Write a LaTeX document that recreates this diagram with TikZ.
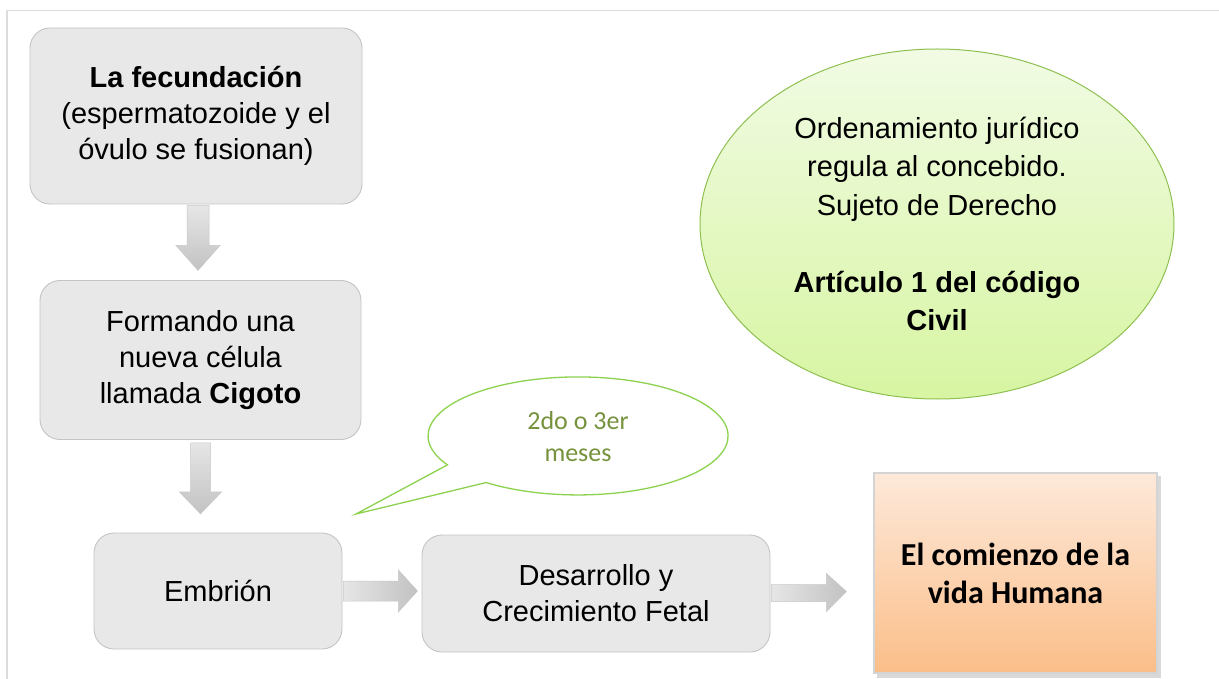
\documentclass[tikz,border=0pt]{standalone}
\usepackage{fontspec}
\setmainfont{Liberation Sans}
\newfontfamily\calib{Carlito}
\usetikzlibrary{calc,shapes.geometric}
\definecolor{boxfill}{HTML}{E8E8E8}
\definecolor{boxline}{HTML}{C4C4C4}
\definecolor{framecol}{HTML}{DCDCDC}
\definecolor{ellline}{HTML}{8EC050}
\definecolor{elltop}{HTML}{F1FBE4}
\definecolor{ellbot}{HTML}{D7F5A2}
\definecolor{calline}{HTML}{8CD24E}
\definecolor{caltext}{HTML}{76923C}
\definecolor{orgtop}{HTML}{FDE9DA}
\definecolor{orgbot}{HTML}{FBBE89}
\definecolor{orgline}{HTML}{D4D4D4}
\definecolor{arrlight}{HTML}{E6E6E6}
\definecolor{arrdark}{HTML}{C2C2C2}
\tikzset{
  stepbox/.style={draw=boxline, line width=0.9pt, fill=boxfill, rounded corners=20pt,
    align=center, inner sep=0pt, font=\fontsize{29}{36}\selectfont},
  blockarrowv/.style={top color=arrlight, bottom color=arrdark, draw=arrdark!90, line width=0.5pt},
  blockarrowh/.style={left color=arrlight, right color=arrdark, draw=arrdark!90, line width=0.5pt},
}
\begin{document}
\begin{tikzpicture}[x=1pt,y=-1pt]
\useasboundingbox (0,0) rectangle (1219,679);
% frame
\draw[framecol, line width=1.2pt] (7,679) -- (7,10.5) -- (1219,10.5);

% boxes
\node[stepbox, minimum width=332pt, minimum height=176pt] (b1) at (196,116)
  {\textbf{La fecundación}\\(espermatozoide y el\\óvulo se fusionan)};
\node[stepbox, minimum width=321pt, minimum height=159pt] (b2) at (200.5,360)
  {Formando una\\nueva célula\\llamada \textbf{Cigoto}};
\node[stepbox, minimum width=248pt, minimum height=116pt] (b3) at (218,591)
  {Embrión};
\node[stepbox, minimum width=348pt, minimum height=117pt] (b4) at (596,593.5)
  {Desarrollo y\\Crecimiento Fetal};

% orange box with soft shadow
\fill[gray!30] (877,476) rectangle (1161,678);
\node[draw=orgline, line width=2pt, top color=orgtop, bottom color=orgbot,
  minimum width=283pt, minimum height=200pt, inner sep=0pt, align=center,
  font=\calib\bfseries\fontsize{32}{38}\selectfont] (b5) at (1015.5,573)
  {El comienzo de la\\vida Humana};

% ellipse
\node[ellipse, draw=ellline, line width=1pt, top color=elltop, bottom color=ellbot,
  minimum width=474pt, minimum height=350pt, inner sep=0pt, align=center,
  font=\fontsize{29}{38.5}\selectfont] (ell) at (937,224)
  {Ordenamiento jurídico\\regula al concebido.\\Sujeto de Derecho\\[38.5pt]\textbf{Artículo 1 del código}\\\textbf{Civil}};

% callout
\coordinate (ctip) at (356,514);
\coordinate (cc) at (578,436);
\draw[calline, line width=1.3pt, fill=white]
  (ctip) -- ($(cc)+(-130.6,28.9)$) arc[start angle=209.4, end angle=-127.8, x radius=150pt, y radius=59pt] -- cycle;
\node[align=center, text=caltext, font=\calib\fontsize{26}{32}\selectfont] (ctext) at (578,437)
  {2do o 3er\\meses};

% down arrow 1
\draw[blockarrowv]
  ($(b1.south)+(-9,1)$) -- ($(b1.south)+(13,1)$) -- ($(b1.south)+(13,41)$) --
  ($(b1.south)+(24,41)$) -- ($(b1.south)+(2,66)$) -- ($(b1.south)+(-20,41)$) --
  ($(b1.south)+(-9,41)$) -- cycle;
% down arrow 2
\draw[blockarrowv]
  ($(b2.south)+(-10,3)$) -- ($(b2.south)+(10,3)$) -- ($(b2.south)+(10,52)$) --
  ($(b2.south)+(21,52)$) -- ($(b2.south)+(0,74)$) -- ($(b2.south)+(-21,52)$) --
  ($(b2.south)+(-10,52)$) -- cycle;
% right arrow 3
\draw[blockarrowh]
  ($(b3.east)+(1,-10)$) -- ($(b3.east)+(56,-10)$) -- ($(b3.east)+(56,-21)$) --
  ($(b3.east)+(75,0)$) -- ($(b3.east)+(56,21)$) -- ($(b3.east)+(56,10)$) --
  ($(b3.east)+(1,10)$) -- cycle;
% right arrow 4
\draw[blockarrowh]
  ($(b4.east)+(1,-9)$) -- ($(b4.east)+(56,-9)$) -- ($(b4.east)+(56,-20)$) --
  ($(b4.east)+(76,-2)$) -- ($(b4.east)+(56,18)$) -- ($(b4.east)+(56,8)$) --
  ($(b4.east)+(1,8)$) -- cycle;
\end{tikzpicture}
\end{document}
